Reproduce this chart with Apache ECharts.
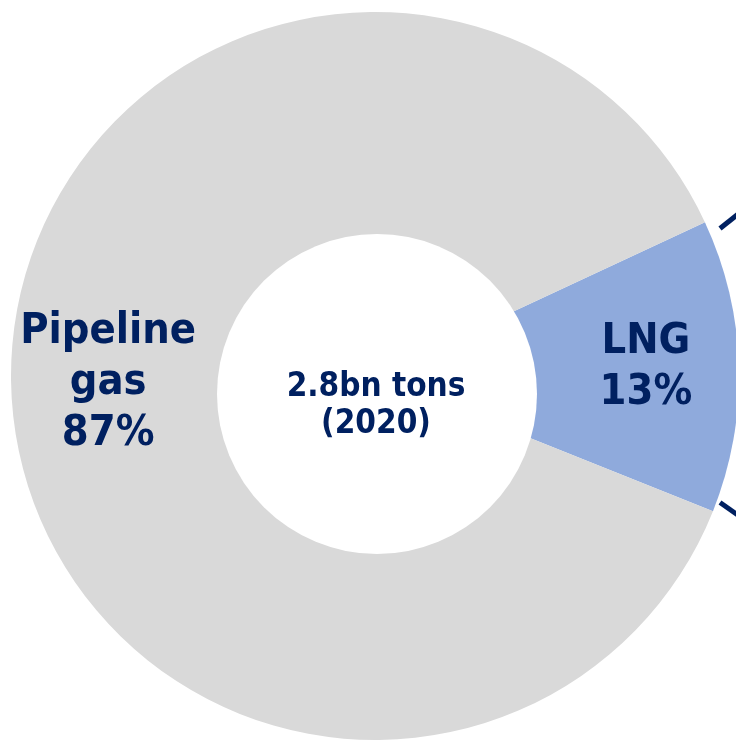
<!DOCTYPE html>
<html>
<head>
<meta charset="utf-8">
<script src="https://cdn.jsdelivr.net/npm/echarts@6.0.0/dist/echarts.min.js"></script>
<style>
html,body{margin:0;padding:0;background:#fff;}
#chart{width:736px;height:741px;}
</style>
</head>
<body>
<div id="chart"></div>
<script>
const categories = ['LNG', 'Pipeline\ngas'];
const shares = [13, 87];
const colors = ['#8faadc', '#d9d9d9'];
const centerText = ['2.8bn tons', '(2020)'];

const FONT = "'DejaVu Sans Condensed', 'DejaVu Sans', sans-serif";
const NAVY = '#002060';

const data = categories.map((c, i) => ({ name: c, value: shares[i], itemStyle: { color: colors[i] } }));

const chart = echarts.init(document.getElementById('chart'));
chart.setOption({
  animation: false,
  series: [
    {
      type: 'pie',
      center: [375, 376],
      radius: [0, 364],
      startAngle: 25,
      clockwise: true,
      silent: true,
      label: { show: false },
      labelLine: { show: false },
      itemStyle: { borderWidth: 0 },
      data: data
    },
    {
      type: 'pie',
      center: [377, 375],
      radius: [168, 364],
      startAngle: 25,
      clockwise: true,
      silent: true,
      itemStyle: { color: 'transparent', borderWidth: 0 },
      label: {
        show: true,
        position: 'inside',
        formatter: p => p.name + '\n' + p.value + '%',
        color: NAVY,
        fontFamily: FONT,
        fontWeight: 'bold',
        fontSize: 43,
        lineHeight: 51,
        align: 'center'
      },
      labelLine: { show: false },
      data: categories.map((c, i) => ({ name: c, value: shares[i] }))
    },
    {
      type: 'pie',
      center: [377, 394],
      radius: [0, 160],
      silent: true,
      label: { show: false },
      labelLine: { show: false },
      itemStyle: { color: '#ffffff', borderWidth: 0 },
      data: [{ name: 'hole', value: 1 }]
    }
  ],
  graphic: [
    {
      type: 'text',
      x: 376,
      y: 406,
      z: 100,
      style: {
        text: centerText.join('\n'),
        align: 'center',
        verticalAlign: 'middle',
        fill: NAVY,
        font: "bold 33px " + FONT,
        lineHeight: 37
      }
    },
    {
      type: 'line',
      z: 100,
      shape: { x1: 720, y1: 228.5, x2: 742, y2: 211 },
      style: { stroke: NAVY, lineWidth: 5 }
    },
    {
      type: 'line',
      z: 100,
      shape: { x1: 720, y1: 502.5, x2: 742, y2: 518 },
      style: { stroke: NAVY, lineWidth: 5 }
    }
  ]
});
</script>
</body>
</html>
